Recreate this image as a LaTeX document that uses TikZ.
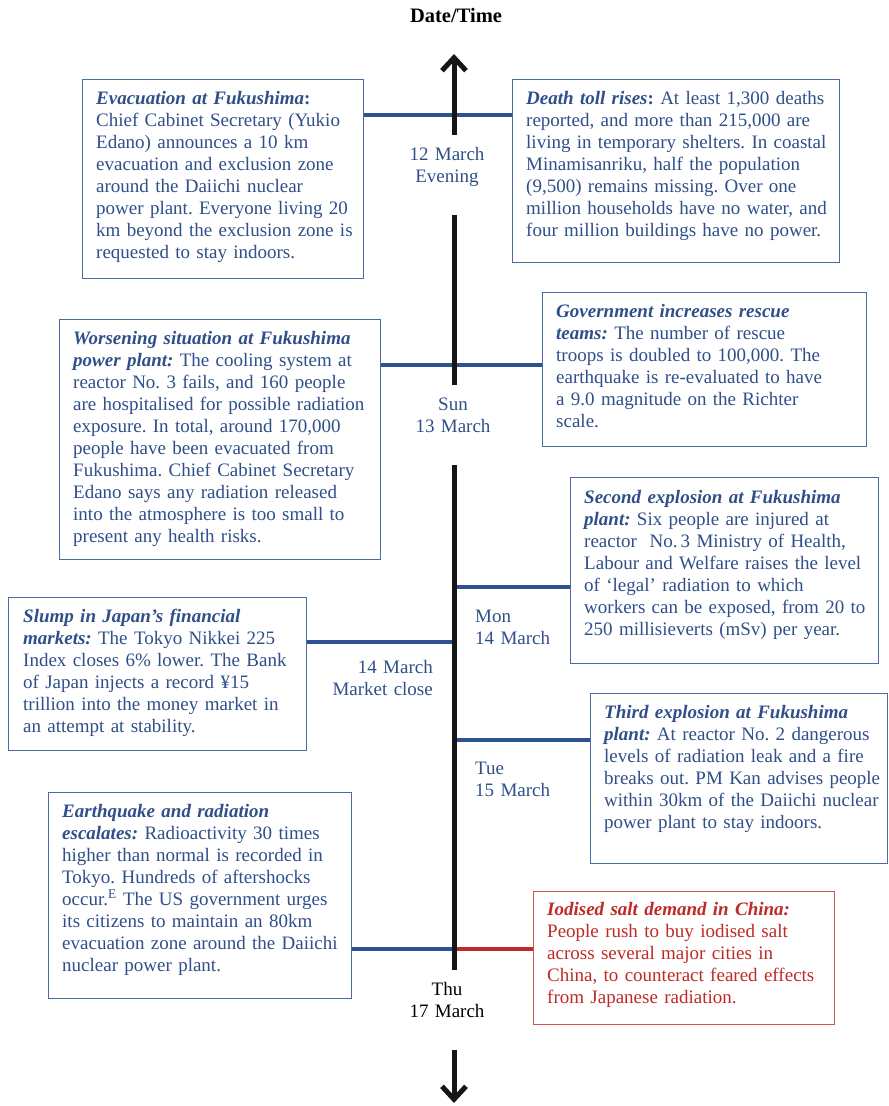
\documentclass[tikz,border=0pt]{standalone}
\usepackage{fontspec}
\setmainfont{Liberation Serif}
\usetikzlibrary{arrows.meta}
\frenchspacing
\definecolor{evblue}{HTML}{2F4F8A}
\definecolor{edgeblue}{HTML}{4A6BA5}
\definecolor{linkblue}{HTML}{2D5191}
\definecolor{evred}{HTML}{C02A26}
\definecolor{edgered}{HTML}{D25552}
\definecolor{axisblack}{HTML}{161616}
\tikzset{
  evbox/.style={draw=edgeblue, line width=1.3pt, fill=white, anchor=north west, inner sep=0pt},
  redbox/.style={evbox, draw=edgered},
  evtext/.style={anchor=base west, inner sep=0pt, text width=340pt, align=left,
    text=evblue, font=\fontsize{19}{22}\selectfont},
  redtext/.style={evtext, text=evred},
  datelbl/.style={inner sep=0pt, text width=140pt, anchor=base, align=center,
    text=evblue, font=\fontsize{19}{22}\selectfont},
  link/.style={draw=linkblue, line width=4pt},
  redlink/.style={draw=evred, line width=4pt},
  axisline/.style={draw=axisblack, line width=5pt},
  axistip/.style={-{Straight Barb[length=13pt, width=24pt, line width=5pt]}},
}
\newcommand{\hd}[1]{\textbf{\textit{#1}}}
\begin{document}
\begin{tikzpicture}[x=1pt, y=-1pt]
\useasboundingbox (0,0) rectangle (889,1106);

% heading
\node[anchor=base, inner sep=0pt, font=\fontsize{20.5}{24}\selectfont\bfseries] (title) at (456,22) {Date/Time};

% event boxes
\node[evbox, minimum width=281pt, minimum height=199pt] (b1) at (82,79) {};
\node[evbox, minimum width=327pt, minimum height=183pt] (b2) at (512,79) {};
\node[evbox, minimum width=321pt, minimum height=240pt] (b3) at (59,319) {};
\node[evbox, minimum width=324pt, minimum height=154pt] (b4) at (542,292) {};
\node[evbox, minimum width=308pt, minimum height=186pt] (b5) at (570,477) {};
\node[evbox, minimum width=298pt, minimum height=153pt] (b6) at (8,597) {};
\node[evbox, minimum width=297pt, minimum height=170pt] (b7) at (590,693) {};
\node[evbox, minimum width=303pt, minimum height=206pt] (b8) at (48,792) {};
\node[redbox, minimum width=301pt, minimum height=133pt] (b9) at (533,891) {};

% points on the time axis
\coordinate (tipTop) at (454,54);
\coordinate (s1a) at (454,135);
\coordinate (s2a) at (454,215);
\coordinate (s2b) at (454,385);
\coordinate (s3a) at (454,465);
\coordinate (s3b) at (454,970);
\coordinate (s4a) at (454,1050);
\coordinate (tipBot) at (454,1103);
\coordinate (k1) at (454,115);
\coordinate (k2) at (454,365);
\coordinate (k3) at (454,587);
\coordinate (k4) at (454,642);
\coordinate (k5) at (454,740);
\coordinate (k6) at (454,949);

% connectors from the events to the axis
\draw[link] (b1.east |- k1) -- (b2.west |- k1);
\draw[link] (b3.east |- k2) -- (b4.west |- k2);
\draw[link] (k3) -- (b5.west |- k3);
\draw[link] (b6.east |- k4) -- (k4);
\draw[link] (k5) -- (b7.west |- k5);
\draw[link] (b8.east |- k6) -- (k6);
\draw[redlink] (k6) -- (b9.west |- k6);

% the time axis
\draw[axisline, axistip] (s1a) -- (tipTop);
\draw[axisline] (s2a) -- (s2b);
\draw[axisline] (s3a) -- (s3b);
\draw[axisline, axistip] (s4a) -- (tipBot);

% dates along the axis
\node[datelbl] (d1) at (447,160) {12 March\\Evening};
\node[datelbl] (d2) at (453,410) {Sun\\13 March};
\node[datelbl, anchor=base west, align=left] (d3) at (475,622) {Mon\\14 March};
\node[datelbl, anchor=base east, align=right] (d4) at (433,673) {14 March\\Market close};
\node[datelbl, anchor=base west, align=left] (d5) at (475,774) {Tue\\15 March};
\node[datelbl, text=black] (d6) at (447,995) {Thu\\17 March};

% event texts
\node[evtext] (t1) at (96,104) {\hd{Evacuation at Fukushima}\textbf{:}\\
Chief Cabinet Secretary (Yukio\\
Edano) announces a 10 km\\
evacuation and exclusion zone\\
around the Daiichi nuclear\\
power plant. Everyone living 20\\
km beyond the exclusion zone is\\
requested to stay indoors.};

\node[evtext] (t2) at (526,104) {\hd{Death toll rises}\textbf{:} At least 1,300 deaths\\
reported, and more than 215,000 are\\
living in temporary shelters. In coastal\\
Minamisanriku, half the population\\
(9,500) remains missing. Over one\\
million households have no water, and\\
four million buildings have no power.};

\node[evtext] (t3) at (73,344) {\hd{Worsening situation at Fukushima}\\
\hd{power plant:} The cooling system at\\
reactor No. 3 fails, and 160 people\\
are hospitalised for possible radiation\\
exposure. In total, around 170,000\\
people have been evacuated from\\
Fukushima. Chief Cabinet Secretary\\
Edano says any radiation released\\
into the atmosphere is too small to\\
present any health risks.};

\node[evtext] (t4) at (556,317) {\hd{Government increases rescue}\\
\hd{teams:} The number of rescue\\
troops is doubled to 100,000. The\\
earthquake is re-evaluated to have\\
a 9.0 magnitude on the Richter\\
scale.};

\node[evtext] (t5) at (584,503) {\hd{Second explosion at Fukushima}\\
\hd{plant:} Six people are injured at\\
reactor\ \ No.\,3 Ministry of Health,\\
Labour and Welfare raises the level\\
of ‘legal’ radiation to which\\
workers can be exposed, from 20 to\\
250 millisieverts (mSv) per year.};

\node[evtext] (t6) at (23,622) {\hd{Slump in Japan’s financial}\\
\hd{markets:} The Tokyo Nikkei 225\\
Index closes 6\% lower. The Bank\\
of Japan injects a record ¥15\\
trillion into the money market in\\
an attempt at stability.};

\node[evtext] (t7) at (604,718) {\hd{Third explosion at Fukushima}\\
\hd{plant:} At reactor No. 2 dangerous\\
levels of radiation leak and a fire\\
breaks out. PM Kan advises people\\
within 30km of the Daiichi nuclear\\
power plant to stay indoors.};

\node[evtext] (t8) at (62,817) {\hd{Earthquake and radiation}\\
\hd{escalates:} Radioactivity 30 times\\
higher than normal is recorded in\\
Tokyo. Hundreds of aftershocks\\
occur.\textsuperscript{E} The US government urges\\
its citizens to maintain an 80km\\
evacuation zone around the Daiichi\\
nuclear power plant.};

\node[redtext] (t9) at (547,915) {\hd{Iodised salt demand in China:}\\
People rush to buy iodised salt\\
across several major cities in\\
China, to counteract feared effects\\
from Japanese radiation.};
\end{tikzpicture}
\end{document}
